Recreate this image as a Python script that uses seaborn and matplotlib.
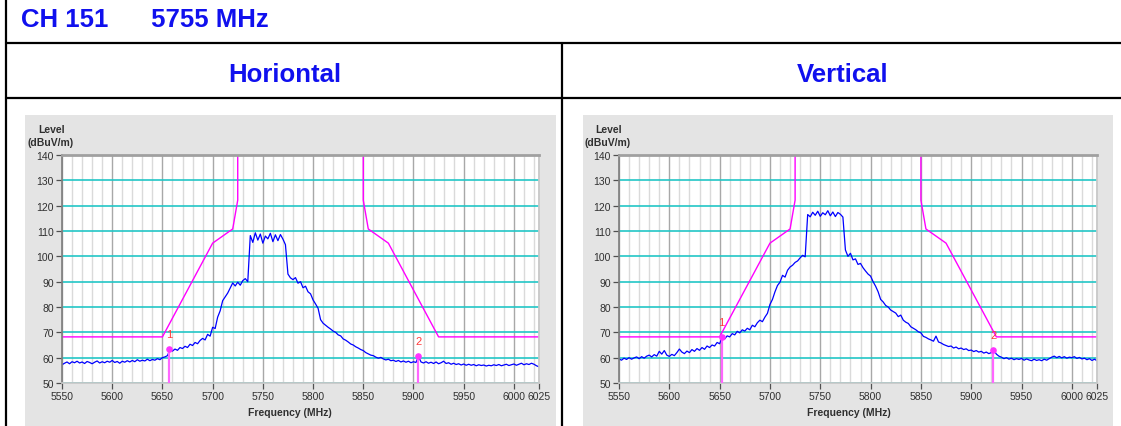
import numpy as np
import pandas as pd
import seaborn as sns
import matplotlib
matplotlib.use("Agg")
from matplotlib import pyplot as plt
from matplotlib.patches import Rectangle
from matplotlib.lines import Line2D

# sweep grid of the analyser trace (MHz)
freq_start, freq_stop, freq_step = 5550, 6025, 2.5

# horizontal polarisation trace (dBuV/m), one row = 20 MHz
level_horizontal = [
    57.2, 57.8, 58.3, 57.6, 58.4, 58.0, 58.6, 57.9,
    58.3, 57.7, 58.5, 58.1, 57.6, 58.2, 58.7, 57.9,
    58.4, 58.0, 58.6, 58.2, 58.9, 58.1, 58.5, 57.8,
    58.6, 58.2, 58.8, 58.3, 58.9, 58.4, 59.2, 58.6,
    59.0, 58.7, 59.4, 58.8, 59.3, 59.0, 59.6, 59.2,
    60.0, 60.3, 60.8, 63.2, 62.6, 63.4, 62.9, 64.0,
    63.6, 64.5, 64.0, 65.3, 64.8, 66.0, 65.5, 66.8,
    67.6, 67.0, 69.2, 68.5, 72.0, 71.5, 76.0, 78.5,
    82.5, 84.0, 85.5, 87.5, 89.5, 88.3, 89.8, 88.6,
    90.4, 91.2, 90.0, 108.2, 105.5, 109.3, 106.4, 108.8,
    105.2, 108.0, 106.9, 109.1, 105.8, 108.5, 106.2, 108.6,
    106.8, 104.6, 93.0, 91.5, 90.8, 91.6, 89.4, 90.0,
    87.6, 88.2, 86.0, 85.2, 82.8, 81.2, 79.5, 75.0,
    73.6, 72.8, 72.0, 71.3, 70.5, 70.0, 69.0, 68.6,
    67.4, 66.9, 66.2, 65.4, 65.0, 64.3, 63.8, 63.2,
    62.8, 62.0, 61.5, 61.0, 60.8, 60.2, 59.8, 60.1,
    59.5, 59.1, 59.4, 58.8, 59.0, 58.5, 58.9, 58.3,
    58.7, 58.2, 58.6, 58.0, 58.4, 58.1, 60.5, 58.3,
    57.9, 58.4, 57.8, 58.2, 57.7, 58.3, 57.6, 58.0,
    58.6, 57.7, 58.0, 57.4, 57.8, 57.3, 57.6, 57.1,
    57.5, 57.0, 57.4, 57.0, 57.3, 56.8, 57.2, 56.9,
    57.1, 56.7, 57.0, 56.8, 57.2, 56.9, 57.3, 56.8,
    57.1, 57.4, 56.9, 57.2, 57.5, 57.0, 57.4, 57.8,
    57.2, 57.6, 57.3, 57.8, 57.4, 56.8, 56.4,
]

# vertical polarisation trace (dBuV/m)
level_vertical = [
    59.5, 59.0, 59.8, 59.3, 60.0, 59.4, 59.9, 60.3,
    59.6, 60.4, 59.8, 60.6, 61.0, 60.3, 61.2, 60.6,
    62.5, 61.4, 62.8, 61.0, 60.5, 61.3, 60.8, 62.0,
    63.4, 62.2, 61.6, 62.6, 62.0, 63.2, 62.5, 63.6,
    62.9, 64.0, 63.3, 64.6, 64.0, 65.0, 64.6, 66.0,
    65.5, 68.0, 67.4, 68.6, 68.2, 69.5, 69.0, 70.4,
    69.8, 71.0, 70.5, 71.6, 71.0, 72.8, 72.2, 73.8,
    74.8, 74.2, 76.0, 77.5, 81.0, 83.0, 86.0, 88.5,
    89.8, 92.5, 91.8, 94.5, 95.8, 96.5, 97.6, 98.2,
    99.4, 100.4, 99.8, 116.5, 115.6, 117.4, 116.2, 117.8,
    115.8, 117.2, 116.4, 118.0, 116.0, 117.5, 115.7, 117.3,
    116.6, 115.5, 102.5, 100.0, 101.2, 98.6, 99.0, 96.8,
    97.2, 95.5, 94.2, 93.0, 92.2, 90.0, 88.2, 86.0,
    83.0, 82.0, 80.6, 80.0, 78.8, 78.2, 77.6, 76.2,
    76.8, 74.8, 74.0, 73.5, 72.2, 71.6, 71.0, 70.2,
    69.8, 68.4, 68.0, 67.4, 67.0, 66.5, 68.5, 66.2,
    65.8, 65.2, 64.8, 64.4, 64.6, 63.8, 64.2, 63.5,
    63.8, 63.2, 63.5, 62.8, 63.0, 62.4, 62.8, 62.2,
    62.5, 61.8, 62.2, 61.6, 62.0, 63.0, 61.4, 60.6,
    60.2, 59.6, 60.0, 59.4, 59.8, 59.2, 59.6, 59.3,
    59.7, 59.0, 59.5, 59.1, 58.8, 59.4, 58.9, 59.2,
    58.8, 59.4, 59.0, 59.6, 60.2, 60.6, 60.0, 60.5,
    59.9, 60.4, 59.8, 60.2, 60.0, 60.4, 59.7, 60.1,
    59.5, 59.8, 59.2, 59.6, 58.9, 59.4, 58.8,
]

# emission mask (band edge limit), lower and upper side
mask_low_freq = [5550, 5650, 5700, 5720, 5725, 5725]
mask_low_level = [68.2, 68.2, 105.2, 110.8, 122.2, 150]
mask_high_freq = [5850, 5850, 5855, 5875, 5925, 6025]
mask_high_level = [150, 122.2, 110.8, 105.2, 68.2, 68.2]

marker_h_freq = [5657, 5905]
marker_h_level = [63.4, 60.6]
marker_v_freq = [5652, 5922]
marker_v_level = [68.3, 63.0]
marker_names = ["1", "2"]

x_ticks = [5550, 5600, 5650, 5700, 5750, 5800, 5850, 5900, 5950, 6000, 6025]
y_ticks = [50, 60, 70, 80, 90, 100, 110, 120, 130, 140]

sns.set_theme(style="white")
plt.rcParams["font.family"] = ["Liberation Sans", "DejaVu Sans"]

W, H = 1121, 427
fig = plt.figure(figsize=(W / 100, H / 100), dpi=100)
fig.patch.set_facecolor("white")


def fx(x):
    return x / W


def fy(y):
    return 1 - y / H


freq = np.arange(freq_start, freq_stop + freq_step / 2, freq_step)
traces = pd.DataFrame({"freq": freq, "Horiontal": level_horizontal, "Vertical": level_vertical})

# table rules
for x0, x1, y0, y1 in [(6, W, 44, 44), (6, W, 99, 99), (6, 6, 0, H), (562, 562, 44, H)]:
    fig.add_artist(Line2D([fx(x0), fx(x1)], [fy(y0), fy(y1)], color="black", lw=1.6,
                          transform=fig.transFigure, zorder=-1))

blue = "#1010ee"
fig.text(fx(21), fy(20), "CH 151      5755 MHz", color=blue, fontsize=18.5, fontweight="bold",
         ha="left", va="center")
fig.text(fx(285), fy(75), "Horiontal", color=blue, fontsize=18.5, fontweight="bold",
         ha="center", va="center")
fig.text(fx(843), fy(75), "Vertical", color=blue, fontsize=18.5, fontweight="bold",
         ha="center", va="center")

panels = [
    dict(col="Horiontal", gray=(25, 556), plot=(62, 539), mf=marker_h_freq, ml=marker_h_level, xl=0.478),
    dict(col="Vertical", gray=(583, 1113), plot=(619, 1097), mf=marker_v_freq, ml=marker_v_level, xl=0.48),
]

for p in panels:
    g0, g1 = p["gray"]
    fig.add_artist(Rectangle((fx(g0), 0), fx(g1 - g0), fy(116), transform=fig.transFigure,
                             facecolor="#e4e4e4", edgecolor="none", zorder=-2))
    l, r = p["plot"]
    ax = fig.add_axes([fx(l), fy(384), fx(r - l), (384 - 156) / H])
    ax.set_facecolor("white")

    ax.set_xlim(5550, 6025)
    ax.set_ylim(50, 140)
    ax.set_xticks(x_ticks)
    ax.set_yticks(y_ticks)
    ax.set_xticks([f for f in range(5560, 6025, 10) if f % 50], minor=True)
    ax.grid(axis="x", which="minor", color="#dadada", lw=1.0)
    ax.grid(axis="x", which="major", color="#a8a8a8", lw=1.0)
    ax.grid(axis="y", which="major", color="#22c6c6", lw=1.2)
    ax.set_axisbelow(True)

    # limit line
    sns.lineplot(x=mask_low_freq, y=mask_low_level, ax=ax, color="#ff00ff", lw=1.0,
                 sort=False, estimator=None, legend=False)
    sns.lineplot(x=mask_high_freq, y=mask_high_level, ax=ax, color="#ff00ff", lw=1.0,
                 sort=False, estimator=None, legend=False)
    # measured trace
    sns.lineplot(data=traces, x="freq", y=p["col"], ax=ax, color="#0000ff", lw=0.9,
                 sort=False, estimator=None, legend=False)

    # markers
    ax.vlines(p["mf"], 50, p["ml"], color="#ff66ff", lw=1.6, zorder=4)
    ax.scatter(p["mf"], p["ml"], s=14, color="#ff33ff", zorder=5)
    for name, f, lv in zip(marker_names, p["mf"], p["ml"]):
        ax.annotate(name, (f, lv), xytext=(0, 7), textcoords="offset points", ha="center",
                    va="bottom", color="#ff3a3a", fontsize=8)

    for side in ["left", "right", "top", "bottom"]:
        ax.spines[side].set_visible(True)
    ax.spines["top"].set_color("#a0a0a0")
    ax.spines["top"].set_linewidth(2.0)
    ax.spines["right"].set_color("#c8c8c8")
    ax.spines["left"].set_color("#808080")
    ax.spines["bottom"].set_color("#c8c8c8")

    ax.tick_params(axis="both", which="major", length=4, width=0.9, color="#505050",
                   labelsize=7.5, labelcolor="#303030", pad=2, left=True, bottom=True)
    ax.tick_params(axis="x", which="minor", length=0)
    ax.set_ylabel("")
    ax.set_xlabel("Frequency (MHz)", fontsize=7.5, fontweight="bold", color="#303030")
    ax.xaxis.set_label_coords(p["xl"], -0.105)

    fig.text(fx((l + 0) - 10), fy(130), "Level", fontsize=7.5, fontweight="bold",
             color="#303030", ha="center", va="center")
    fig.text(fx(l - 11), fy(143), "(dBuV/m)", fontsize=7.5, fontweight="bold",
             color="#303030", ha="center", va="center")

fig.savefig("out.png", dpi=100, facecolor="white")
